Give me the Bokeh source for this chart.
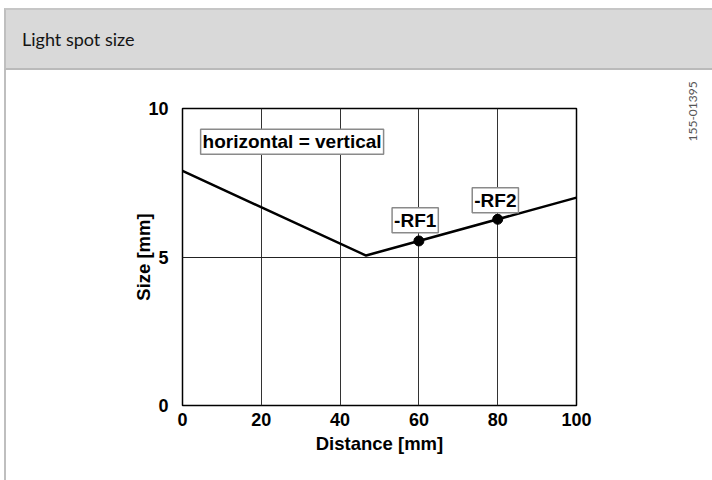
import math
from bokeh.plotting import figure
from bokeh.models import Label, Range1d, FixedTicker, Div, LinearAxis
from bokeh.layouts import column
from bokeh.embed import file_html
from bokeh.resources import INLINE

# ---- data ----
distance = [0, 46.6, 100]
spot_size = [7.9, 5.05, 7.0]
rf_names = ["-RF1", "-RF2"]
rf_distance = [60, 80]
rf_size = [5.54, 6.27]
x_ticks = [0, 20, 40, 60, 80, 100]
y_ticks = [0, 5, 10]
title_text = "Light spot size"
note_text = "horizontal = vertical"
doc_id = "155-01395"
x_label = "Distance [mm]"
y_label = "Size [mm]"

header = Div(
    width=712, height=70,
    text=('<div style="margin:8px 0 0 4px; height:62px; width:708px; background:#d9d9d9;'
          ' border-top:2px solid #c6c6c6; border-left:2px solid #bfbfbf;'
          ' border-bottom:2px solid #bababa; padding-left:16px; line-height:58px;'
          ' font-family:Lato; font-size:18px; color:#141414;">'
          + title_text + '</div>'),
    styles={"margin": "0", "padding": "0"},
)

W, H = 706, 410
p = figure(width=W, height=H, output_backend="svg", toolbar_location=None,
           x_range=Range1d(0, 100), y_range=Range1d(0, 10),
           min_border_left=176, min_border_right=136,
           min_border_top=38, min_border_bottom=75)
p.styles = {"margin-left": "4px", "border-left": "2px solid #bfbfbf"}
p.background_fill_color = "white"
p.border_fill_color = "white"
p.outline_line_color = "black"
p.outline_line_width = 1.5

for ax in (p.xaxis[0], p.yaxis[0]):
    ax.major_label_text_font = "Liberation Sans"
    ax.major_label_text_font_style = "bold"
    ax.major_label_text_font_size = "18px"
    ax.major_label_text_color = "black"
    ax.axis_label_text_font = "Liberation Sans"
    ax.axis_label_text_font_style = "bold"
    ax.axis_label_text_font_size = "18.5px"
    ax.axis_label_text_color = "black"
    ax.major_tick_line_color = None
    ax.minor_tick_line_color = None
    ax.axis_line_color = None

p.xaxis.ticker = FixedTicker(ticks=x_ticks)
p.yaxis.ticker = FixedTicker(ticks=y_ticks)
p.xaxis.axis_label = x_label
p.yaxis.axis_label = y_label
p.xaxis.major_label_standoff = 1
p.xaxis.axis_label_standoff = 4
p.yaxis.major_label_standoff = 8
p.yaxis.axis_label_standoff = -9

p.xgrid.ticker = FixedTicker(ticks=x_ticks[1:-1])
p.ygrid.ticker = FixedTicker(ticks=y_ticks[1:-1])
p.xgrid.grid_line_color = "#333333"
p.ygrid.grid_line_color = "#222222"
p.xgrid.grid_line_width = 1
p.ygrid.grid_line_width = 1

p.line(distance, spot_size, line_color="black", line_width=2.5)
p.scatter(rf_distance, rf_size, size=10, color="black")

box_style = dict(text_font="Liberation Sans", text_font_style="bold",
                 text_font_size="19px", text_color="black",
                 background_fill_color="white", border_line_color="#8a8a8a",
                 border_line_width=1.5, padding=2)
p.add_layout(Label(x=4.6, y=8.88, text=note_text, text_align="left",
                   text_baseline="middle", **box_style))
p.add_layout(Label(x=59.06, y=6.24, text=rf_names[0], text_align="center",
                   text_baseline="middle", **box_style))
p.add_layout(Label(x=79.4, y=6.91, text=rf_names[1], text_align="center",
                   text_baseline="middle", **box_style))

# document id: a right-hand side text in pixel offsets from the frame
p.extra_y_ranges = {"px": Range1d(0, 297)}
id_axis = LinearAxis(y_range_name="px", ticker=FixedTicker(ticks=[264]),
                     major_label_overrides={264: doc_id},
                     major_label_orientation=math.pi / 2,
                     major_label_standoff=110,
                     major_label_text_font="Lato",
                     major_label_text_font_size="12px",
                     major_label_text_color="#555555",
                     axis_line_color=None, major_tick_line_color=None,
                     minor_tick_line_color=None)
p.add_layout(id_axis, "right")

layout = column(header, p, spacing=0)
open("out.html", "w").write(file_html(layout, INLINE))
